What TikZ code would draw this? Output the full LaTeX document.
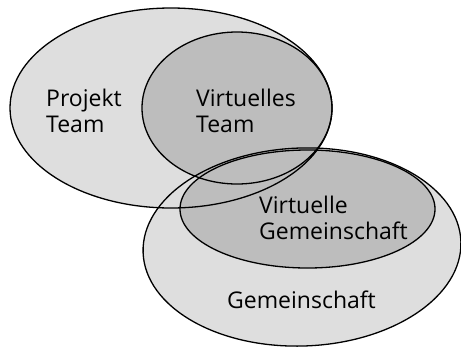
\documentclass[tikz,border=0pt]{standalone}
\usepackage{fontspec}
\setmainfont{Open Sans}
\definecolor{lightfill}{gray}{0.87}
\definecolor{darkfill}{gray}{0.74}
\tikzset{
  outline/.style={draw=black, line width=1.3pt},
  label/.style={anchor=base west, inner sep=0pt, font=\fontsize{23}{26}\selectfont, align=left},
}
\begin{document}
\begin{tikzpicture}[x=1pt, y=-1pt]
  \useasboundingbox (0,0) rectangle (461,349);
  % fills first, then all outlines on top
  \fill[lightfill] (171,108) ellipse [x radius=161pt, y radius=100pt];
  \fill[lightfill, rotate around={2:(302,247)}] (302,247) ellipse [x radius=159pt, y radius=99pt];
  \fill[darkfill] (237,108) ellipse [x radius=95pt, y radius=76pt];
  \fill[darkfill] (307.5,209) ellipse [x radius=127.5pt, y radius=59pt];
  \draw[outline] (171,108) ellipse [x radius=161pt, y radius=100pt];
  \draw[outline, rotate around={2:(302,247)}] (302,247) ellipse [x radius=159pt, y radius=99pt];
  \draw[outline] (237,108) ellipse [x radius=95pt, y radius=76pt];
  \draw[outline] (307.5,209) ellipse [x radius=127.5pt, y radius=59pt];
  % labels (base anchor sits on the last line)
  \node[label] (projekt) at (46,132) {Projekt\\Team};
  \node[label] (vteam) at (196,132) {Virtuelles\\Team};
  \node[label] (vgem) at (259,239) {Virtuelle\\Gemeinschaft};
  \node[label] (gem) at (227,308) {Gemeinschaft};
\end{tikzpicture}
\end{document}
